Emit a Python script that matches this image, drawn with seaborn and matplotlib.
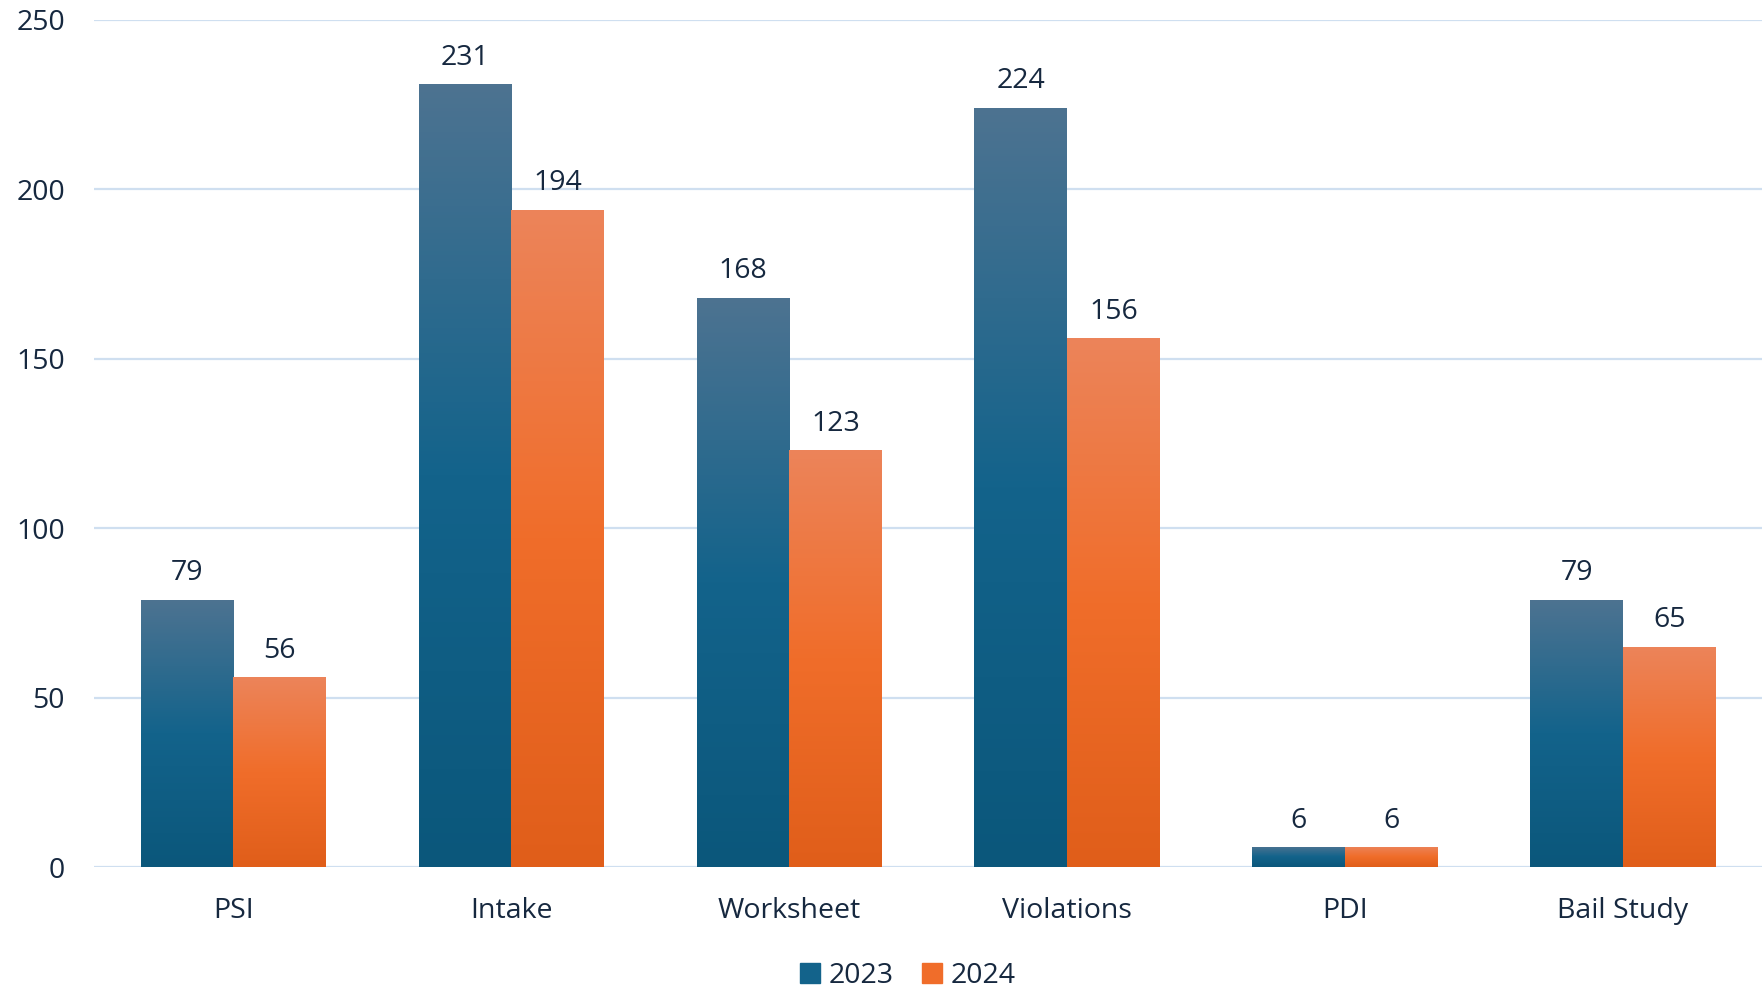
import numpy as np
import pandas as pd
import matplotlib
matplotlib.use("Agg")
import matplotlib.pyplot as plt
from matplotlib.colors import LinearSegmentedColormap
import seaborn as sns

# data
categories = ["PSI", "Intake", "Worksheet", "Violations", "PDI", "Bail Study"]
values_2023 = [79, 231, 168, 224, 6, 79]
values_2024 = [56, 194, 123, 156, 6, 65]
years = ["2023", "2024"]

TEXT = "#16283f"
GRID = "#cfdff0"
# (top, middle, bottom) colours of the bar gradients
GRADIENTS = {
    "2023": ["#4d7391", "#13638b", "#0b577b"],
    "2024": ["#ec845a", "#f06d2a", "#e05e1a"],
}

df = pd.DataFrame({
    "category": categories * 2,
    "year": [years[0]] * len(categories) + [years[1]] * len(categories),
    "value": values_2023 + values_2024,
})

sns.set_theme(style="white")
plt.rcParams["font.family"] = ["Open Sans", "DejaVu Sans"]
FS = 20.5

fig = plt.figure(figsize=(17.62, 9.89), dpi=100)
ax = fig.add_axes([0.0535, 0.123, 0.9465, 0.857])

palette = {y: GRADIENTS[y][1] for y in years}
sns.barplot(data=df, x="category", y="value", hue="year", palette=palette,
            width=2 / 3, ax=ax, legend=False, saturation=1)

# gradient fill clipped to every bar
for container, year in zip(ax.containers, years):
    cmap = LinearSegmentedColormap.from_list(year, GRADIENTS[year][::-1])
    for patch in container:
        x0, y0 = patch.get_x(), patch.get_y()
        w, h = patch.get_width(), patch.get_height()
        grad = np.linspace(0, 1, 256).reshape(-1, 1)
        im = ax.imshow(grad, cmap=cmap, aspect="auto", origin="lower",
                       extent=[x0, x0 + w, y0, y0 + h], zorder=patch.get_zorder())
        im.set_clip_path(patch)
        patch.set_facecolor("none")
        patch.set_edgecolor("none")
    ax.bar_label(container, fmt="%d", padding=9, fontsize=FS, color=TEXT)

ax.set_xlim(-0.5, len(categories) - 0.5)
ax.set_ylim(0, 250)
ax.set_yticks(range(0, 251, 50))
ax.yaxis.grid(True, color=GRID, linewidth=1.6)
ax.set_axisbelow(True)
for s in ax.spines.values():
    s.set_visible(False)
ax.set_xlabel("")
ax.set_ylabel("")
ax.tick_params(axis="y", labelsize=FS, labelcolor=TEXT, pad=21, length=0)
ax.tick_params(axis="x", labelsize=FS, labelcolor=TEXT, pad=21, length=0)
for lab in ax.get_yticklabels():
    lab.set_horizontalalignment("right")

handles = [plt.Rectangle((0, 0), 1, 1, color=GRADIENTS[y][1]) for y in years]
fig.legend(handles, years, loc="center", bbox_to_anchor=(0.515, 0.013), ncol=2,
           frameon=False, fontsize=FS, labelcolor=TEXT, handlelength=0.7,
           handleheight=0.7, handletextpad=0.3, columnspacing=1.0)

fig.savefig("out.png", dpi=100)
